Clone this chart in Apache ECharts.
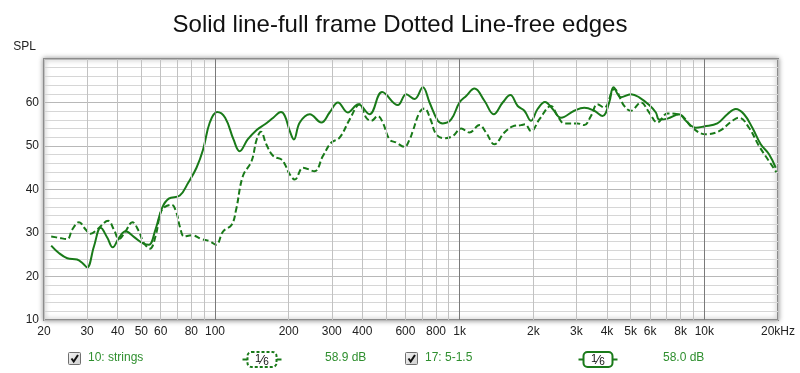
<!DOCTYPE html>
<html><head><meta charset="utf-8">
<script src="https://cdn.jsdelivr.net/npm/echarts@6/dist/echarts.min.js"></script>
<style>html,body{margin:0;padding:0;background:#fff}#c{width:800px;height:373px}</style>
</head><body><div id="c"></div>
<script>
const titleText = 'Solid line-full frame Dotted Line-free edges';
const yAxisName = 'SPL';

const solidFreq = [21.4,23,24.9,27.3,28.7,30,32,34.1,36.3,38.2,40.5,43.1,46.6,51.2,53.7,57.1,60.8,64.7,71.8,77.6,84,89.4,95.2,102,110,119,126,136,148,160,173,186,193,202,210,222,244,272,294,318,349,385,428,482,559,604,654,707,753,814,853,923,998,1063,1149,1262,1377,1499,1611,1726,1838,1957,2082,2232,2398,2595,2940,3230,3550,3837,4085,4254,4560,5010,5416,5950,6336,6536,7068,7888,8402,9232,9978,11302,12420,13438,14526,15712,17002,18382,19572];
const solidSpl = [27.1,25.4,24.2,23.9,23.1,22.1,26.9,31.2,28.9,26.7,28.9,30.4,29.1,27.5,27.3,30.8,35.8,37.9,38.6,41.5,45.0,49.2,55.4,57.8,56.5,51.5,48.8,51.5,53.7,55.0,56.5,57.8,56.9,53.5,51.5,55.4,57.3,55.4,57.7,60.0,57.7,59.6,57.3,62.4,59.4,61.9,60.8,63.5,60.0,55.8,55.2,56.1,60.0,61.5,63.2,60.4,57.3,60.0,61.7,59.2,58.1,55.8,58.5,60.1,58.5,56.5,58.1,58.8,58.1,56.9,60.0,63.5,61.2,61.9,61.2,59.4,57.7,56.1,56.3,57.3,55.8,54.2,54.5,55.2,57.3,58.5,57.3,54.2,50.4,48.1,45.0];

const dashFreq = [21.4,23,24.9,26.1,27.8,29.6,31,33,36.6,38.6,40.5,43.1,45.9,48.8,51.2,54.2,57.1,59.9,62.4,66.4,69.6,71.8,74.8,80.2,88.1,95.2,101,108,117,122,130,141,148,154,162,173,187,193,202,212,229,255,276,299,323,355,390,415,435,463,485,517,550,595,624,643,685,718,760,802,866,937,1014,1096,1204,1282,1386,1523,1647,1782,1850,1957,2116,2362,2514,2677,3032,3230,3440,3659,3898,4282,4704,5010,5504,5950,6434,7068,7762,8136,8938,10138,11486,13022,13864,15226,16732,18382,19684];
const dashSpl = [29.2,28.9,28.6,30.8,32.5,30.8,29.8,30.8,32.8,30.8,28.6,30.4,32.5,30.4,27.7,26.4,29.2,34.6,36.0,36.5,34.6,31.5,29.2,29.5,28.6,28.1,27.3,30.4,31.9,35.4,43.1,46.5,51.5,53.3,50.4,47.7,46.9,45.8,43.5,42.3,45.0,44.2,47.7,50.8,51.9,56.1,59.6,56.5,55.8,56.9,55.4,51.5,50.8,49.8,51.5,53.4,57.7,58.6,56.1,52.7,51.8,52.3,54.0,53.1,54.8,53.1,50.4,53.1,54.5,54.8,55.0,53.4,56.1,59.2,56.9,55.2,55.2,54.8,56.9,59.6,58.8,63.1,59.2,58.1,60.0,57.7,55.4,57.5,57.3,56.9,54.2,52.7,53.4,55.8,56.5,54.2,50.0,46.5,44.0];

const gridFreqs = [20,30,40,50,60,70,80,90,100,200,300,400,500,600,700,800,900,1000,2000,3000,4000,5000,6000,7000,8000,9000,10000,20000];
const majorFreqs = [100,1000,10000];
const tickFreqs = [20,30,40,50,60,80,100,200,300,400,600,800,1000,2000,3000,4000,5000,6000,8000,10000,20000];
const tickLabels = ['20','30','40','50','60','80','100','200','300','400','600','800','1k','2k','3k','4k','5k','6k','8k','10k','20kHz'];

const legendNames = ['10: strings','17: 5-1.5'];
const legendValues = ['58.9 dB','58.0 dB'];

const GREEN = '#197a19';
const TXTGREEN = '#2f8f2f';
const FONT = '"Liberation Sans", Arial, sans-serif';

const chart = echarts.init(document.getElementById('c'), null, {renderer:'canvas'});

const gridMarks = gridFreqs.map(f => {
  const li = tickFreqs.indexOf(f);
  return {
    name: li >= 0 ? tickLabels[li] : '',
    xAxis: f,
    lineStyle: {color: majorFreqs.includes(f) ? '#7a7a7a' : '#c2c2c2', width: 1, type: 'solid'},
    label: {show: li >= 0}
  };
});

function checkbox(x, y) {
  return {
    type: 'group', left: x, top: y, silent: true,
    children: [
      {type:'rect', shape:{x:0,y:0,width:12,height:12,r:1},
       style:{fill:new echarts.graphic.LinearGradient(0,0,1,1,[{offset:0,color:'#f4f4f4'},{offset:1,color:'#cfcfcf'}]), stroke:'#6f6f6f', lineWidth:1}},
      {type:'polyline', shape:{points:[[3,6],[5.2,9],[9.5,2.5]]}, style:{stroke:'#111', lineWidth:2, fill:null}}
    ]
  };
}
function fracBox(x, y, dashed) {
  return {
    type:'group', left:x, top:y, silent:true,
    children:[
      {type:'line', shape:{x1:0,y1:7.5,x2:5,y2:7.5}, style:{stroke:GREEN, lineWidth:2}},
      {type:'line', shape:{x1:34,y1:7.5,x2:39,y2:7.5}, style:{stroke:GREEN, lineWidth:2}},
      {type:'rect', shape:{x:5,y:0,width:29,height:15,r:4},
       style:{fill:'#fff', stroke:GREEN, lineWidth:2, lineDash: dashed ? [3,2] : null}},
      {type:'text', x:19.5, y:8, style:{text:'{a|1}{b|⁄}{c|6}', align:'center', verticalAlign:'middle',
        rich:{a:{fontSize:11, fill:'#111', padding:[0,0,3,0], fontFamily:FONT}, b:{fontSize:13, fill:'#111', fontFamily:FONT}, c:{fontSize:10, fill:'#111', padding:[4,0,0,0], fontFamily:FONT}}}}
    ]
  };
}

const option = {
  animation: false,
  backgroundColor: '#fff',
  textStyle: {fontFamily: FONT},
  title: {
    text: titleText, left: 'center', top: 8,
    textStyle: {fontSize: 24, fontWeight: 'normal', color: '#111', fontFamily: FONT}
  },
  grid: {
    left: 44, right: 22, top: 59, bottom: 53,
    show: true, backgroundColor: '#fff', borderColor: '#8c8c8c', borderWidth: 2,
    shadowColor: 'rgba(0,0,0,0.35)', shadowBlur: 5
  },
  xAxis: {
    type: 'log', logBase: 10, min: 20, max: 20000,
    axisLine: {show: false}, axisTick: {show: false}, axisLabel: {show: false},
    splitLine: {show: false}, minorSplitLine: {show: false}
  },
  yAxis: {
    type: 'value', min: 10, max: 70, interval: 10,
    name: yAxisName, nameLocation: 'end', nameGap: 6,
    nameTextStyle: {color: '#222', fontSize: 12, align: 'right', padding: [0, 8, 0, 0]},
    axisLine: {show: false}, axisTick: {show: false},
    axisLabel: {color: '#222', fontSize: 12, margin: 5, formatter: v => v === 70 ? '' : String(v)},
    splitLine: {show: true, lineStyle: {color: '#b8b8b8', width: 1}},
    minorTick: {show: false, splitNumber: 5},
    minorSplitLine: {show: true, lineStyle: {color: '#d6d6d6', width: 1}}
  },
  series: [
    {
      type: 'line', data: [], silent: true, z: 1,
      markLine: {
        silent: true, symbol: ['none','none'], animation: false,
        label: {position: 'start', formatter: '{b}', color: '#222', fontSize: 12, distance: 6, fontFamily: FONT},
        data: gridMarks
      }
    },
    {
      name: legendNames[0], type: 'line', z: 3, smooth: 0.4, showSymbol: false, symbol: 'none',
      data: dashFreq.map((f, i) => [f, dashSpl[i]]),
      lineStyle: {color: GREEN, width: 2, type: [6, 3]}
    },
    {
      name: legendNames[1], type: 'line', z: 4, smooth: 0.4, showSymbol: false, symbol: 'none',
      data: solidFreq.map((f, i) => [f, solidSpl[i]]),
      lineStyle: {color: GREEN, width: 2, type: 'solid'}
    }
  ],
  graphic: [
    checkbox(68, 352),
    {type:'text', left: 88, top: 352, style:{text: legendNames[0], fill: TXTGREEN, fontSize: 12, fontFamily: FONT}},
    fracBox(240, 351, true),
    {type:'text', left: 325, top: 352, style:{text: legendValues[0], fill: TXTGREEN, fontSize: 12, fontFamily: FONT}},
    checkbox(405, 352),
    {type:'text', left: 425, top: 352, style:{text: legendNames[1], fill: TXTGREEN, fontSize: 12, fontFamily: FONT}},
    fracBox(576, 351, false),
    {type:'text', left: 663, top: 352, style:{text: legendValues[1], fill: TXTGREEN, fontSize: 12, fontFamily: FONT}}
  ]
};
chart.setOption(option);
</script>
</body></html>
